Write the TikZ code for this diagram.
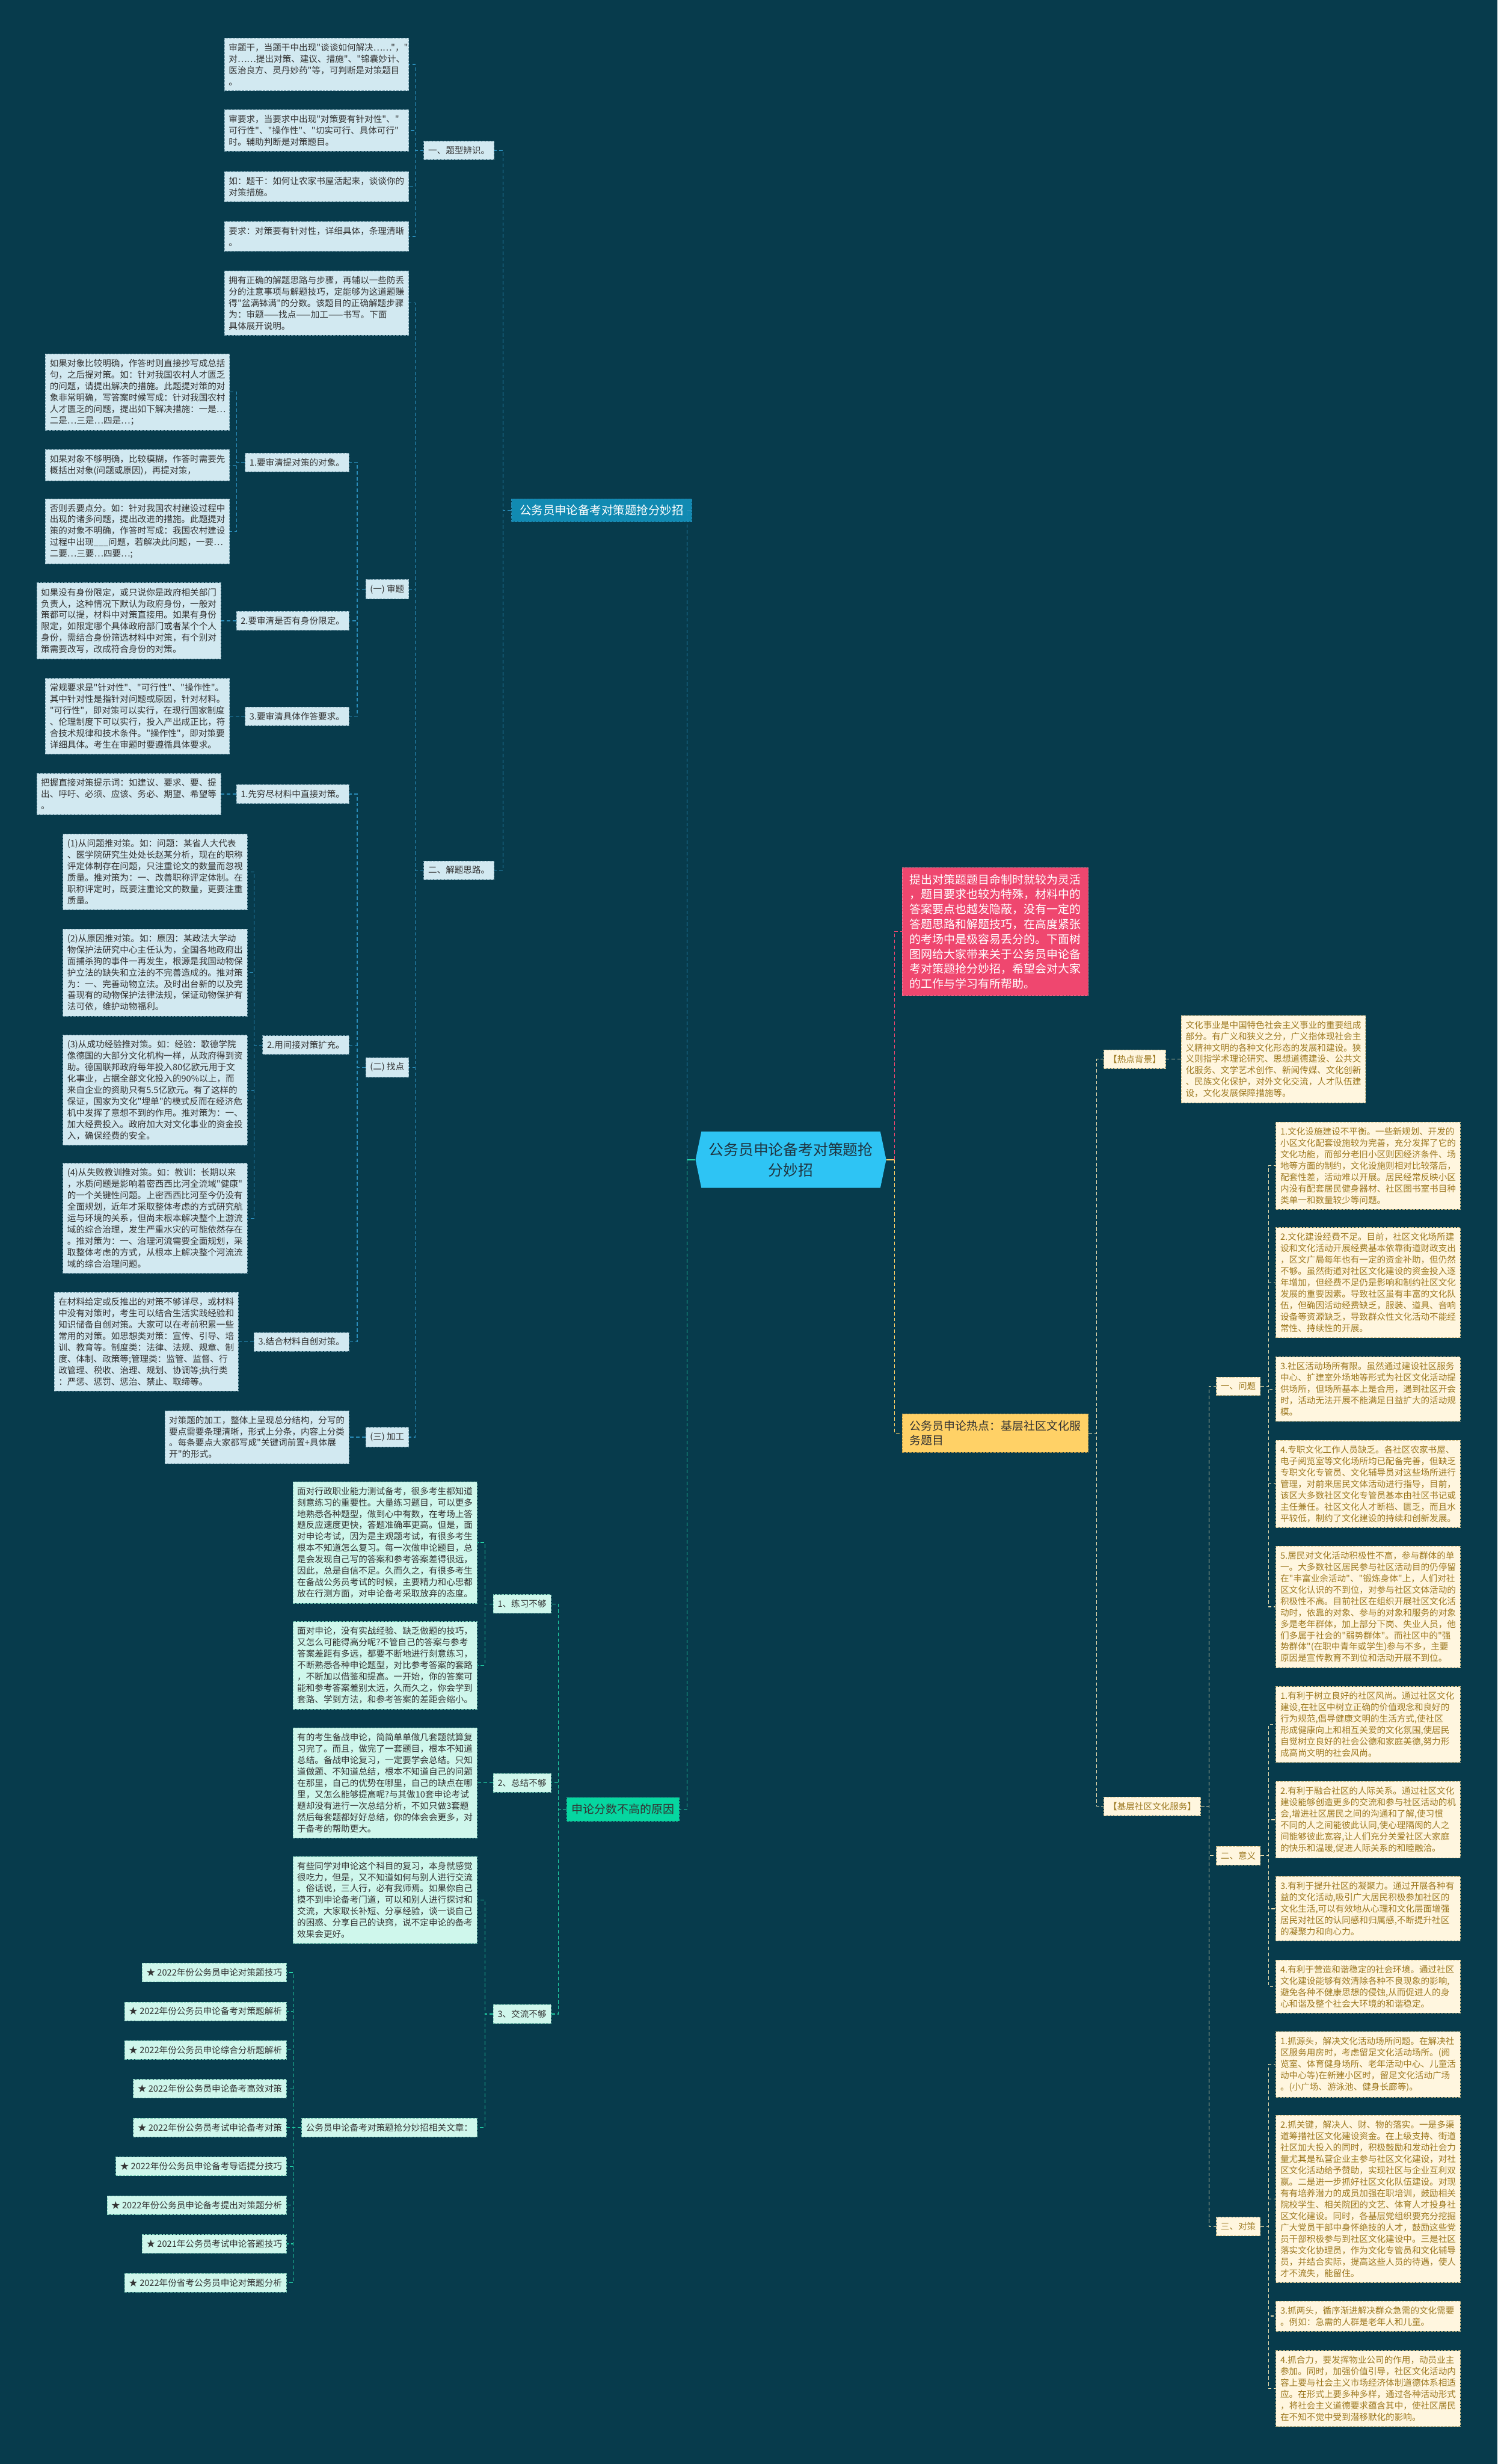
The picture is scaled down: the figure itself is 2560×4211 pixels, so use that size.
\documentclass[tikz,border=0pt]{standalone}
\usepackage{fontspec}
\setmainfont{Noto Sans CJK SC}[Ligatures=TeXOff]
\usetikzlibrary{positioning}
\setlength{\parindent}{0pt}

\definecolor{bgdark}{HTML}{073B4C}
\definecolor{rootfill}{HTML}{2EC4F4}
\definecolor{rootink}{HTML}{1F3440}
\definecolor{bluemain}{HTML}{118AB2}
\definecolor{bluefill}{HTML}{D2E9F1}
\definecolor{blueedge}{HTML}{7FA6B5}
\definecolor{blueline}{HTML}{2A8DBA}
\definecolor{greenmain}{HTML}{06D6A0}
\definecolor{mintfill}{HTML}{CFF7EC}
\definecolor{mintedge}{HTML}{7CCDB8}
\definecolor{greenline}{HTML}{22D2A6}
\definecolor{pinkmain}{HTML}{EF476F}
\definecolor{yellowmain}{HTML}{FFD166}
\definecolor{creamfill}{HTML}{FFF6DF}
\definecolor{creamedge}{HTML}{D6C28B}
\definecolor{creamline}{HTML}{E9DCAE}
\definecolor{goldink}{HTML}{9E7A22}
\definecolor{inkdark}{HTML}{333333}

\begin{document}
\begin{tikzpicture}[x=1pt,y=-1pt]
  % one unit is one pixel of the 2560 x 4211 reference, y runs downwards
  \tikzset{
    box/.style={rectangle, inner xsep=7.5pt, inner ysep=9pt, align=left,
      font=\fontsize{15}{19.5}\selectfont, line width=0.8pt, dash pattern=on 4pt off 2pt},
    para/.style={text width=300pt}, % leaf boxes are 315 wide
    bleaf/.style={box, fill=bluefill, draw=blueedge, text=inkdark},
    gleaf/.style={box, fill=mintfill, draw=mintedge, text=inkdark},
    yleaf/.style={box, fill=creamfill, draw=creamedge, text=goldink},
    % the big coloured boxes next to the root
    main/.style={rectangle, inner xsep=13pt, inner ysep=11pt, align=left,
      font=\fontsize{19.5}{25.5}\selectfont, line width=0.8pt, dash pattern=on 4pt off 2pt},
    link/.style={line width=1.3pt, dash pattern=on 6pt off 4pt},
    bline/.style={link, draw=blueline},
    gline/.style={link, draw=greenline},
    pline/.style={link, draw=pinkmain},
    yline/.style={link, draw=yellowmain},
    cline/.style={link, draw=creamline},
  }
  \fill[bgdark] (0,0) rectangle (2560,4211);
  \useasboundingbox (0,0) rectangle (2560,4211);

  % root, a flat hexagon
  \fill[rootfill] (1189,1982) -- (1199,1934) -- (1505,1934) -- (1515,1982) -- (1505,2030) -- (1199,2030) -- cycle;
  \node[minimum width=326pt, minimum height=96pt, inner sep=0pt, align=center, text=rootink,
    font=\fontsize{25.5}{35}\selectfont] (root) at (1352,1982) {公务员申论备考对策题抢\\分妙招};

  % ---------------- left, upper branch ----------------
  \node[main, anchor=west, fill=bluemain, draw=blueline, text=white, font=\fontsize{20}{26}\selectfont, inner xsep=14pt, inner ysep=10pt] (tips) at (874,872) {公务员申论备考对策题抢分妙招};
  \node[bleaf, anchor=east] (kind) at (845,257) {一、题型辨识。};
  \node[bleaf, anchor=east] (idea) at (845,1487) {二、解题思路。};

  \node[bleaf, para, anchor=east] (a1) at (699,110) {审题干，当题干中出现"谈谈如何解决……"，"\\
对……提出对策、建议、措施"、"锦囊妙计、\\
医治良方、灵丹妙药"等，可判断是对策题目\\
。};
  \node[bleaf, para, anchor=east] (a2) at (699,223) {审要求，当要求中出现"对策要有针对性"、"\\
可行性"、"操作性"、"切实可行、具体可行"\\
时。辅助判断是对策题目。};
  \node[bleaf, para, anchor=east] (a3) at (699,319) {如：题干：如何让农家书屋活起来，谈谈你的\\
对策措施。};
  \node[bleaf, para, anchor=east] (a4) at (699,404) {要求：对策要有针对性，详细具体，条理清晰\\
。};
  \node[bleaf, para, anchor=east] (a5) at (699,518) {拥有正确的解题思路与步骤，再辅以一些防丢\\
分的注意事项与解题技巧，定能够为这道题赚\\
得"盆满钵满"的分数。该题目的正确解题步骤\\
为：审题——找点——加工——书写。下面\\
具体展开说明。};

  \node[bleaf, anchor=east] (shenti) at (699,1007) {(一) 审题};
  \node[bleaf, anchor=east] (zhaodian) at (699,1824) {(二) 找点};
  \node[bleaf, anchor=east] (jiagong) at (699,2456) {(三) 加工};

  \node[bleaf, anchor=east] (obj) at (597,790) {1.要审清提对策的对象。};
  \node[bleaf, anchor=east] (role) at (597,1061) {2.要审清是否有身份限定。};
  \node[bleaf, anchor=east] (req) at (597,1224) {3.要审清具体作答要求。};

  \node[bleaf, para, anchor=east] (b1) at (393,670) {如果对象比较明确，作答时则直接抄写成总括\\
句，之后提对策。如：针对我国农村人才匮乏\\
的问题，请提出解决的措施。此题提对策的对\\
象非常明确，写答案时候写成：针对我国农村\\
人才匮乏的问题，提出如下解决措施：一是…\\
二是…三是…四是…；};
  \node[bleaf, para, anchor=east] (b2) at (393,795) {如果对象不够明确，比较模糊，作答时需要先\\
概括出对象(问题或原因)，再提对策，};
  \node[bleaf, para, anchor=east] (b3) at (393,908) {否则丢要点分。如：针对我国农村建设过程中\\
出现的诸多问题，提出改进的措施。此题提对\\
策的对象不明确，作答时写成：我国农村建设\\
过程中出现\_\_\_问题，若解决此问题，一要…\\
二要…三要…四要…;};
  \node[bleaf, para, anchor=east] (b4) at (378,1061) {如果没有身份限定，或只说你是政府相关部门\\
负责人，这种情况下默认为政府身份，一般对\\
策都可以提，材料中对策直接用。如果有身份\\
限定，如限定哪个具体政府部门或者某个个人\\
身份，需结合身份筛选材料中对策，有个别对\\
策需要改写，改成符合身份的对策。};
  \node[bleaf, para, anchor=east] (b5) at (393,1224) {常规要求是"针对性"、"可行性"、"操作性"。\\
其中针对性是指针对问题或原因，针对材料。\\
"可行性"，即对策可以实行，在现行国家制度\\
、伦理制度下可以实行，投入产出成正比，符\\
合技术规律和技术条件。"操作性"，即对策要\\
详细具体。考生在审题时要遵循具体要求。};

  \node[bleaf, anchor=east] (direct) at (597,1357) {1.先穷尽材料中直接对策。};
  \node[bleaf, anchor=east] (indirect) at (597,1786) {2.用间接对策扩充。};
  \node[bleaf, anchor=east] (own) at (597,2293) {3.结合材料自创对策。};

  \node[bleaf, para, anchor=east] (b6) at (378,1357) {把握直接对策提示词：如建议、要求、要、提\\
出、呼吁、必须、应该、务必、期望、希望等\\
。};
  \node[bleaf, para, anchor=east] (c1) at (423,1490) {(1)从问题推对策。如：问题：某省人大代表\\
、医学院研究生处处长赵某分析，现在的职称\\
评定体制存在问题，只注重论文的数量而忽视\\
质量。推对策为：一、改善职称评定体制。在\\
职称评定时，既要注重论文的数量，更要注重\\
质量。};
  \node[bleaf, para, anchor=east] (c2) at (423,1662) {(2)从原因推对策。如：原因：某政法大学动\\
物保护法研究中心主任认为，全国各地政府出\\
面捕杀狗的事件一再发生，根源是我国动物保\\
护立法的缺失和立法的不完善造成的。推对策\\
为：一、完善动物立法。及时出台新的以及完\\
善现有的动物保护法律法规，保证动物保护有\\
法可依，维护动物福利。};
  \node[bleaf, para, anchor=east] (c3) at (423,1863) {(3)从成功经验推对策。如：经验：歌德学院\\
像德国的大部分文化机构一样，从政府得到资\\
助。德国联邦政府每年投入80亿欧元用于文\\
化事业，占据全部文化投入的90\%以上，而\\
来自企业的资助只有5.5亿欧元。有了这样的\\
保证，国家为文化"埋单"的模式反而在经济危\\
机中发挥了意想不到的作用。推对策为：一、\\
加大经费投入。政府加大对文化事业的资金投\\
入，确保经费的安全。};
  \node[bleaf, para, anchor=east] (c4) at (423,2082) {(4)从失败教训推对策。如：教训：长期以来\\
，水质问题是影响着密西西比河全流域"健康"\\
的一个关键性问题。上密西西比河至今仍没有\\
全面规划，近年才采取整体考虑的方式研究航\\
运与环境的关系，但尚未根本解决整个上游流\\
域的综合治理，发生严重水灾的可能依然存在\\
。推对策为：一、治理河流需要全面规划，采\\
取整体考虑的方式，从根本上解决整个河流流\\
域的综合治理问题。};
  \node[bleaf, para, anchor=east] (c5) at (408,2293) {在材料给定或反推出的对策不够详尽，或材料\\
中没有对策时，考生可以结合生活实践经验和\\
知识储备自创对策。大家可以在考前积累一些\\
常用的对策。如思想类对策：宣传、引导、培\\
训、教育等。制度类：法律、法规、规章、制\\
度、体制、政策等;管理类：监管、监督、行\\
政管理、税收、治理、规划、协调等;执行类\\
：严惩、惩罚、惩治、禁止、取缔等。};
  \node[bleaf, para, anchor=east] (jg) at (597,2456) {对策题的加工，整体上呈现总分结构，分写的\\
要点需要条理清晰，形式上分条，内容上分类\\
。每条要点大家都写成"关键词前置+具体展\\
开"的形式。};

  % ---------------- left, lower branch ----------------
  \node[main, anchor=east, fill=greenmain, draw=greenline, text=inkdark, inner xsep=8pt] (score) at (1161,3092) {申论分数不高的原因};
  \node[gleaf, anchor=east] (practice) at (942,2741) {1、练习不够};
  \node[gleaf, anchor=east] (summary) at (942,3047) {2、总结不够};
  \node[gleaf, anchor=east] (exchange) at (942,3442) {3、交流不够};

  \node[gleaf, para, anchor=east] (d1) at (816,2636) {面对行政职业能力测试备考，很多考生都知道\\
刻意练习的重要性。大量练习题目，可以更多\\
地熟悉各种题型，做到心中有数，在考场上答\\
题反应速度更快，答题准确率更高。但是，面\\
对申论考试，因为是主观题考试，有很多考生\\
根本不知道怎么复习。每一次做申论题目，总\\
是会发现自己写的答案和参考答案差得很远，\\
因此，总是自信不足。久而久之，有很多考生\\
在备战公务员考试的时候，主要精力和心思都\\
放在行测方面，对申论备考采取放弃的态度。};
  \node[gleaf, para, anchor=east] (d2) at (816,2846) {面对申论，没有实战经验、缺乏做题的技巧，\\
又怎么可能得高分呢?不管自己的答案与参考\\
答案差距有多远，都要不断地进行刻意练习，\\
不断熟悉各种申论题型，对比参考答案的套路\\
，不断加以借鉴和提高。一开始，你的答案可\\
能和参考答案差别太远，久而久之，你会学到\\
套路、学到方法，和参考答案的差距会缩小。};
  \node[gleaf, para, anchor=east] (d3) at (816,3047) {有的考生备战申论，简简单单做几套题就算复\\
习完了。而且，做完了一套题目，根本不知道\\
总结。备战申论复习，一定要学会总结。只知\\
道做题、不知道总结，根本不知道自己的问题\\
在那里，自己的优势在哪里，自己的缺点在哪\\
里，又怎么能够提高呢?与其做10套申论考试\\
题却没有进行一次总结分析，不如只做3套题\\
然后每套题都好好总结，你的体会会更多，对\\
于备考的帮助更大。};
  \node[gleaf, para, anchor=east] (d4) at (816,3247) {有些同学对申论这个科目的复习，本身就感觉\\
很吃力，但是，又不知道如何与别人进行交流\\
。俗话说，三人行，必有我师焉。如果你自己\\
摸不到申论备考门道，可以和别人进行探讨和\\
交流，大家取长补短、分享经验，谈一谈自己\\
的困惑、分享自己的诀窍，说不定申论的备考\\
效果会更好。};
  \node[gleaf, anchor=east] (related) at (816,3636) {公务员申论备考对策题抢分妙招相关文章：};

  % the nine article links, 66.25 apart
  \foreach \t [count=\i from 0] in {%
    ★ 2022年份公务员申论对策题技巧,
    ★ 2022年份公务员申论备考对策题解析,
    ★ 2022年份公务员申论综合分析题解析,
    ★ 2022年份公务员申论备考高效对策,
    ★ 2022年份公务员考试申论备考对策,
    ★ 2022年份公务员申论备考导语提分技巧,
    ★ 2022年份公务员申论备考提出对策题分析,
    ★ 2021年公务员考试申论答题技巧,
    ★ 2022年份省考公务员申论对策题分析}
    \node[gleaf, anchor=east] (l\i) at (490,3371+66.25*\i) {\t};

  % ---------------- right side ----------------
  \node[main, anchor=west, fill=pinkmain, draw=pinkmain!70!white, text=white, text width=292pt] (intro) at (1542,1592) {提出对策题题目命制时就较为灵活\\
，题目要求也较为特殊，材料中的\\
答案要点也越发隐蔽，没有一定的\\
答题思路和解题技巧，在高度紧张\\
的考场中是极容易丢分的。下面树\\
图网给大家带来关于公务员申论备\\
考对策题抢分妙招，希望会对大家\\
的工作与学习有所帮助。};
  \node[main, anchor=west, fill=yellowmain, draw=yellowmain!70!black, text=inkdark, text width=292pt] (hot) at (1542,2449) {公务员申论热点：基层社区文化服\\
务题目};

  \node[yleaf, anchor=west] (hotbg) at (1887,1810) {【热点背景】};
  \node[yleaf, anchor=west] (basic) at (1887,3087) {【基层社区文化服务】};
  \node[yleaf, para, anchor=west] (r0) at (2019,1810) {文化事业是中国特色社会主义事业的重要组成\\
部分。有广义和狭义之分，广义指体现社会主\\
义精神文明的各种文化形态的发展和建设。狭\\
义则指学术理论研究、思想道德建设、公共文\\
化服务、文学艺术创作、新闻传媒、文化创新\\
、民族文化保护，对外文化交流，人才队伍建\\
设，文化发展保障措施等。};

  \node[yleaf, anchor=west] (problem) at (2079,2369) {一、问题};
  \node[yleaf, anchor=west] (meaning) at (2079,3171) {二、意义};
  \node[yleaf, anchor=west] (measure) at (2079,3805) {三、对策};

  \node[yleaf, para, anchor=west] (p1) at (2181,1992) {1.文化设施建设不平衡。一些新规划、开发的\\
小区文化配套设施较为完善，充分发挥了它的\\
文化功能，而部分老旧小区则因经济条件、场\\
地等方面的制约，文化设施则相对比较落后，\\
配套性差，活动难以开展。居民经常反映小区\\
内没有配套居民健身器材、社区图书室书目种\\
类单一和数量较少等问题。};
  \node[yleaf, para, anchor=west] (p2) at (2181,2192) {2.文化建设经费不足。目前，社区文化场所建\\
设和文化活动开展经费基本依靠街道财政支出\\
，区文广局每年也有一定的资金补助，但仍然\\
不够。虽然街道对社区文化建设的资金投入逐\\
年增加，但经费不足仍是影响和制约社区文化\\
发展的重要因素。导致社区虽有丰富的文化队\\
伍，但确因活动经费缺乏，服装、道具、音响\\
设备等资源缺乏，导致群众性文化活动不能经\\
常性、持续性的开展。};
  \node[yleaf, para, anchor=west] (p3) at (2181,2374) {3.社区活动场所有限。虽然通过建设社区服务\\
中心、扩建室外场地等形式为社区文化活动提\\
供场所，但场所基本上是合用，遇到社区开会\\
时，活动无法开展不能满足日益扩大的活动规\\
模。};
  \node[yleaf, para, anchor=west] (p4) at (2181,2536) {4.专职文化工作人员缺乏。各社区农家书屋、\\
电子阅览室等文化场所均已配备完善，但缺乏\\
专职文化专管员、文化辅导员对这些场所进行\\
管理，对前来居民文体活动进行指导，目前，\\
该区大多数社区文化专管员基本由社区书记或\\
主任兼任。社区文化人才断档、匮乏，而且水\\
平较低，制约了文化建设的持续和创新发展。};
  \node[yleaf, para, anchor=west] (p5) at (2181,2746) {5.居民对文化活动积极性不高，参与群体的单\\
一。大多数社区居民参与社区活动目的仍停留\\
在"丰富业余活动"、"锻炼身体"上，人们对社\\
区文化认识的不到位，对参与社区文体活动的\\
积极性不高。目前社区在组织开展社区文化活\\
动时，依靠的对象、参与的对象和服务的对象\\
多是老年群体，加上部分下岗、失业人员，他\\
们多属于社会的"弱势群体"。而社区中的"强\\
势群体"(在职中青年或学生)参与不多，主要\\
原因是宣传教育不到位和活动开展不到位。};

  \node[yleaf, para, anchor=west] (s1) at (2181,2947) {1.有利于树立良好的社区风尚。通过社区文化\\
建设,在社区中树立正确的价值观念和良好的\\
行为规范,倡导健康文明的生活方式,使社区\\
形成健康向上和相互关爱的文化氛围,使居民\\
自觉树立良好的社会公德和家庭美德,努力形\\
成高尚文明的社会风尚。};
  \node[yleaf, para, anchor=west] (s2) at (2181,3110) {2.有利于融合社区的人际关系。通过社区文化\\
建设能够创造更多的交流和参与社区活动的机\\
会,增进社区居民之间的沟通和了解,使习惯\\
不同的人之间能彼此认同,使心理隔阂的人之\\
间能够彼此宽容,让人们充分关爱社区大家庭\\
的快乐和温暖,促进人际关系的和睦融洽。};
  \node[yleaf, para, anchor=west] (s3) at (2181,3262) {3.有利于提升社区的凝聚力。通过开展各种有\\
益的文化活动,吸引广大居民积极参加社区的\\
文化生活,可以有效地从心理和文化层面增强\\
居民对社区的认同感和归属感,不断提升社区\\
的凝聚力和向心力。};
  \node[yleaf, para, anchor=west] (s4) at (2181,3395) {4.有利于营造和谐稳定的社会环境。通过社区\\
文化建设能够有效清除各种不良现象的影响,\\
避免各种不健康思想的侵蚀,从而促进人的身\\
心和谐及整个社会大环境的和谐稳定。};

  \node[yleaf, para, anchor=west] (t1) at (2181,3528) {1.抓源头，解决文化活动场所问题。在解决社\\
区服务用房时，考虑留足文化活动场所。(阅\\
览室、体育健身场所、老年活动中心、儿童活\\
动中心等)在新建小区时，留足文化活动广场\\
。(小广场、游泳池、健身长廊等)。};
  \node[yleaf, para, anchor=west] (t2) at (2181,3758) {2.抓关键，解决人、财、物的落实。一是多渠\\
道筹措社区文化建设资金。在上级支持、街道\\
社区加大投入的同时，积极鼓励和发动社会力\\
量尤其是私营企业主参与社区文化建设，对社\\
区文化活动给予赞助，实现社区与企业互利双\\
赢。二是进一步抓好社区文化队伍建设。对现\\
有有培养潜力的成员加强在职培训，鼓励相关\\
院校学生、相关院团的文艺、体育人才投身社\\
区文化建设。同时，各基层党组织要充分挖掘\\
广大党员干部中身怀绝技的人才，鼓励这些党\\
员干部积极参与到社区文化建设中。三是社区\\
落实文化协理员，作为文化专管员和文化辅导\\
员，并结合实际，提高这些人员的待遇，使人\\
才不流失，能留住。};
  \node[yleaf, para, anchor=west] (t3) at (2181,3958) {3.抓两头，循序渐进解决群众急需的文化需要\\
。例如：急需的人群是老年人和儿童。};
  \node[yleaf, para, anchor=west] (t4) at (2181,4082) {4.抓合力，要发挥物业公司的作用，动员业主\\
参加。同时，加强价值引导，社区文化活动内\\
容上要与社会主义市场经济体制道德体系相适\\
应。在形式上要多种多样，通过各种活动形式\\
，将社会主义道德要求蕴含其中，使社区居民\\
在不知不觉中受到潜移默化的影响。};

  % ---------------- connectors ----------------
  % root stubs are solid, the rest dashed
  \draw[bline] (root.west) ++(-14,0) |- (tips.east);
  \draw[gline] (root.west) ++(-14,0) |- (score.east);
  \draw[greenline, line width=1.5pt] (root.west) -- ++(-14,0);
  \draw[pline] (root.east) ++(14,0) |- (intro.west);
  \draw[yline] (root.east) ++(14,0) |- (hot.west);
  \draw[yellowmain, line width=1.5pt] (root.east) -- ++(14,0);

  \foreach \c in {kind,idea} \draw[bline] (tips.west) -- ++(-14,0) |- (\c.east);
  \foreach \c in {a1,a2,a3,a4} \draw[bline] (kind.west) -- ++(-14,0) |- (\c.east);
  \foreach \c in {a5,shenti,zhaodian,jiagong} \draw[bline] (idea.west) -- ++(-14,0) |- (\c.east);
  \foreach \c in {obj,role,req} \draw[bline] (shenti.west) -- ++(-14,0) |- (\c.east);
  \foreach \c in {b1,b2,b3} \draw[bline] (obj.west) -- ++(-14,0) |- (\c.east);
  \draw[bline] (role.west) -- (b4.east);
  \draw[bline] (req.west) -- (b5.east);
  \foreach \c in {direct,indirect,own} \draw[bline] (zhaodian.west) -- ++(-14,0) |- (\c.east);
  \draw[bline] (direct.west) -- (b6.east);
  \foreach \c in {c1,c2,c3,c4} \draw[bline] (indirect.west) -- ++(-14,0) |- (\c.east);
  \draw[bline] (own.west) -- (c5.east);
  \draw[bline] (jiagong.west) -- (jg.east);

  \foreach \c in {practice,summary,exchange} \draw[gline] (score.west) -- ++(-14,0) |- (\c.east);
  \foreach \c in {d1,d2} \draw[gline] (practice.west) -- ++(-14,0) |- (\c.east);
  \draw[gline] (summary.west) -- (d3.east);
  \foreach \c in {d4,related} \draw[gline] (exchange.west) -- ++(-14,0) |- (\c.east);
  \foreach \i in {0,...,8} \draw[gline] (related.west) -- ++(-14,0) |- (l\i.east);

  \foreach \c in {hotbg,basic} \draw[cline] (hot.east) -- ++(14,0) |- (\c.west);
  \draw[cline] (hotbg.east) -- (r0.west);
  \foreach \c in {problem,meaning,measure} \draw[cline] (basic.east) -- ++(14,0) |- (\c.west);
  \foreach \c in {p1,p2,p3,p4,p5} \draw[cline] (problem.east) -- ++(14,0) |- (\c.west);
  \foreach \c in {s1,s2,s3,s4} \draw[cline] (meaning.east) -- ++(14,0) |- (\c.west);
  \foreach \c in {t1,t2,t3,t4} \draw[cline] (measure.east) -- ++(14,0) |- (\c.west);
\end{tikzpicture}
\end{document}
